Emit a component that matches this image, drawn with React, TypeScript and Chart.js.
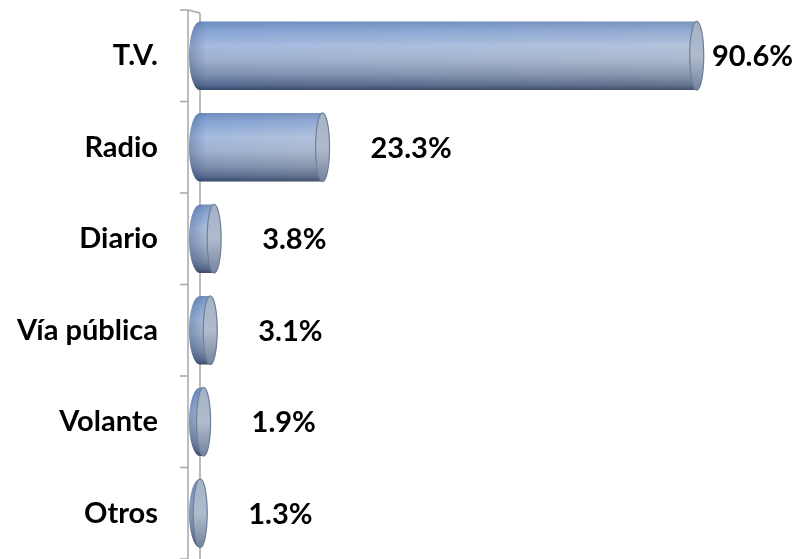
import React, { useEffect, useRef } from "react";
import { Chart, registerables } from "chart.js";

Chart.register(...registerables);

const categories: string[] = ["T.V.", "Radio", "Diario", "Vía pública", "Volante", "Otros"];
const values: number[] = [90.6, 23.3, 3.8, 3.1, 1.9, 1.3];
const valueLabels: string[] = ["90.6%", "23.3%", "3.8%", "3.1%", "1.9%", "1.3%"];

const FONT = "Lato, 'Open Sans', sans-serif";

const wallPlugin = {
  id: "wall",
  beforeDatasetsDraw(chart: any) {
    const { ctx, chartArea, scales } = chart;
    const y = scales.y;
    const left = chartArea.left;
    ctx.save();
    ctx.strokeStyle = "#a6a6a6";
    ctx.lineWidth = 1.5;
    ctx.beginPath();
    ctx.moveTo(left - 12, chartArea.top);
    ctx.lineTo(left - 12, chart.height);
    ctx.moveTo(left, chartArea.top + 3);
    ctx.lineTo(left, chart.height);
    ctx.moveTo(left - 12, chartArea.top);
    ctx.lineTo(left, chartArea.top + 3);
    for (let i = 0; i <= categories.length; i++) {
      const py = y.getPixelForValue(i - 0.5);
      ctx.moveTo(left - 20, py);
      ctx.lineTo(left - 12, py);
    }
    ctx.stroke();
    ctx.restore();
  },
};

const cylinderPlugin = {
  id: "cylinder",
  afterDatasetsDraw(chart: any) {
    const { ctx } = chart;
    const meta = chart.getDatasetMeta(0);
    ctx.save();
    meta.data.forEach((el: any, i: number) => {
      const p = el.getProps(["x", "y", "base", "height"], true);
      const base = p.base;
      const x1 = p.x;
      const cy = p.y;
      const h = p.height;
      const ry = h / 2;
      const top = cy - ry;
      const bottom = cy + ry;
      const rxL = 11;
      const rxR = 7;
      const xr = Math.max(base, x1 - rxR);

      const g = ctx.createLinearGradient(0, top, 0, bottom);
      g.addColorStop(0, "#7390bd");
      g.addColorStop(0.12, "#8eaad6");
      g.addColorStop(0.35, "#b6c8e4");
      g.addColorStop(0.55, "#aebcd2");
      g.addColorStop(0.78, "#8594ac");
      g.addColorStop(0.92, "#5a6a88");
      g.addColorStop(1, "#34405c");

      ctx.beginPath();
      ctx.moveTo(xr, top);
      ctx.ellipse(xr, cy, rxR, ry, 0, -Math.PI / 2, Math.PI / 2);
      ctx.lineTo(base, bottom);
      ctx.ellipse(base, cy, rxL, ry, 0, Math.PI / 2, (3 * Math.PI) / 2);
      ctx.closePath();
      ctx.fillStyle = g;
      ctx.fill();

      const gh = ctx.createLinearGradient(base - rxL, 0, x1, 0);
      gh.addColorStop(0, "rgba(70,115,195,0.16)");
      gh.addColorStop(1, "rgba(160,168,180,0.16)");
      ctx.fillStyle = gh;
      ctx.fill();

      const gl = ctx.createLinearGradient(base - rxL, 0, base + 6, 0);
      gl.addColorStop(0, "rgba(40,60,105,0.28)");
      gl.addColorStop(1, "rgba(40,60,105,0)");
      ctx.fillStyle = gl;
      ctx.fill();

      const gf = ctx.createLinearGradient(0, top, 0, bottom);
      gf.addColorStop(0, "#a3b2c7");
      gf.addColorStop(0.5, "#b0bccd");
      gf.addColorStop(1, "#74839c");
      ctx.beginPath();
      ctx.ellipse(xr, cy, rxR, ry, 0, 0, Math.PI * 2);
      ctx.fillStyle = gf;
      ctx.fill();
      ctx.strokeStyle = "#6f7f98";
      ctx.lineWidth = 1.2;
      ctx.stroke();

      ctx.font = `bold 29px ${FONT}`;
      ctx.fillStyle = "#000";
      ctx.textBaseline = "middle";
      ctx.textAlign = "left";
      const txt = valueLabels[i];
      const w = ctx.measureText(txt).width;
      const lx = Math.min(x1 + 41, chart.width - w - 6);
      ctx.fillText(txt, lx, cy + 1);
    });
    ctx.restore();
  },
};

export default function App() {
  const ref = useRef<HTMLCanvasElement | null>(null);

  useEffect(() => {
    if (!ref.current) return;
    const chart = new Chart(ref.current, {
      type: "bar",
      data: {
        labels: categories,
        datasets: [
          {
            data: values,
            backgroundColor: "rgba(0,0,0,0)",
            borderWidth: 0,
            barPercentage: 0.75,
            categoryPercentage: 1,
          },
        ],
      },
      options: {
        indexAxis: "y",
        animation: false,
        responsive: false,
        layout: { padding: { top: 10, right: 43, bottom: 0, left: 0 } },
        plugins: {
          legend: { display: false },
          tooltip: { enabled: false },
        },
        scales: {
          x: { min: 0, max: 100, display: false },
          y: {
            grid: { display: false, drawTicks: false },
            border: { display: false },
            ticks: {
              color: "#000",
              padding: 42,
              font: { family: FONT, size: 29, weight: "bold" },
            },
            afterFit(scale: any) {
              scale.width = 200;
              scale.paddingTop = 0;
              scale.paddingBottom = 0;
            },
          },
        },
      },
      plugins: [wallPlugin, cylinderPlugin],
    });
    return () => chart.destroy();
  }, []);

  return (
    <div style={{ position: "absolute", left: 0, top: 0, width: 799, height: 559, background: "#fff" }}>
      <canvas ref={ref} width={799} height={559} />
    </div>
  );
}
